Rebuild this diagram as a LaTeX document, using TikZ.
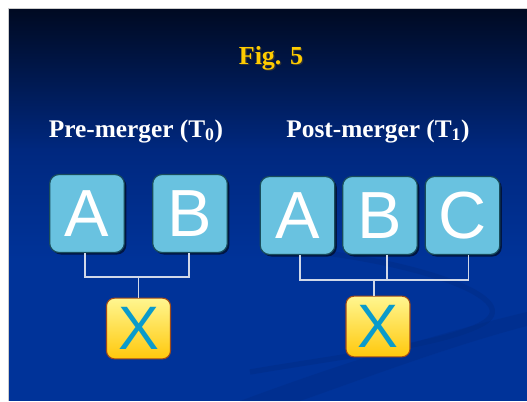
\documentclass[tikz,border=0pt]{standalone}
\usepackage{fontspec}
\setmainfont{Liberation Serif}
\newfontfamily\boxfont{Liberation Sans}
\usetikzlibrary{shadows}
\definecolor{bgtop}{HTML}{000A22}
\definecolor{bgmid}{HTML}{00287F}
\definecolor{bgbot}{HTML}{003399}
\definecolor{swoosh}{HTML}{002A80}
\definecolor{boxfill}{HTML}{69C2E0}
\definecolor{boxedge}{HTML}{184C5C}
\definecolor{xtop}{HTML}{FFF690}
\definecolor{xbot}{HTML}{FFC80C}
\definecolor{xedge}{HTML}{A04A18}
\definecolor{xletter}{HTML}{0A9BCB}
\definecolor{gold}{HTML}{FFCC00}
\definecolor{link}{HTML}{D0D8E8}
\tikzset{
  firm/.style={rounded corners=7pt, fill=boxfill, draw=boxedge, line width=0.9pt,
    minimum width=56pt, minimum height=58.5pt, inner sep=0pt,
    text=white, font=\boxfont\fontsize{50}{50}\selectfont,
    drop shadow={shadow xshift=1.5pt, shadow yshift=-1.5pt, fill=black, opacity=0.55}},
  xbox/.style={rounded corners=6pt, top color=xtop, bottom color=xbot, draw=xedge, line width=0.8pt,
    minimum width=48pt, minimum height=45.5pt, inner sep=0pt,
    text=xletter, font=\boxfont\fontsize{46}{46}\selectfont},
  head/.style={text=white, font=\bfseries\fontsize{19}{19}\selectfont, inner sep=0pt},
  link/.style={draw=link, line width=1.3pt}
}
\begin{document}
\begin{tikzpicture}[x=0.75pt, y=-0.75pt]
\useasboundingbox (0,0) rectangle (527,401);
\fill[white] (0,0) rectangle (527,401);
\fill[gray!40] (8,8) rectangle (527,401);
\shade[top color=bgtop, bottom color=bgmid] (9,9) rectangle (527,150);
\shade[top color=bgmid, bottom color=bgbot] (9,149.5) rectangle (527,260);
\fill[bgbot] (9,259.5) rectangle (527,401);
% background swoosh
\begin{scope}
\clip (9,9) rectangle (527,401);
\draw[swoosh, line width=4pt, opacity=0.4] (300,250) .. controls (420,262) and (530,300) .. (480,325) .. controls (440,345) and (350,355) .. (250,372);
\fill[swoosh, opacity=0.35] (240,401) .. controls (350,360) and (450,330) .. (527,312) -- (527,326) .. controls (450,346) and (360,380) .. (300,401) -- cycle;
\end{scope}
% title
\node[text=black!80, font=\bfseries\fontsize{19.5}{19.5}\selectfont, inner sep=0pt] at (272.2,59.2) {Fig. 5};
\node[text=gold, font=\bfseries\fontsize{19.5}{19.5}\selectfont, inner sep=0pt] (title) at (271,58) {Fig. 5};
% headings
\node[head] (pre) at (136,131) {Pre-merger (T\textsubscript{0})};
\node[head] (post) at (378,131) {Post-merger (T\textsubscript{1})};
% firms
\node[firm] (la) at (87,213.5) {A};
\node[firm] (lb) at (190,213.5) {B};
\node[firm] (ra) at (297.5,215.5) {A};
\node[firm] (rb) at (380,215.5) {B};
\node[firm] (rc) at (462.5,215.5) {C};
\node[xbox] (lx) at (138.5,328.5) {X};
\node[xbox] (rx) at (378,326.5) {X};
% connectors
\coordinate (lj) at (138.5,277);
\coordinate (rj) at (374,280);
\draw[link] ([xshift=-1.5pt]la.south) |- (lj) -| ([xshift=-0.75pt]lb.south);
\draw[link] (lj) -- (lx.north -| lj);
\draw[link] ([xshift=2pt]ra.south) |- (rj) -| ([xshift=4.5pt]rc.south);
\draw[link] ([xshift=5pt]rb.south) -- ([xshift=5pt]rb.south |- rj);
\draw[link] (rj) -- (rx.north -| rj);
\end{tikzpicture}
\end{document}
